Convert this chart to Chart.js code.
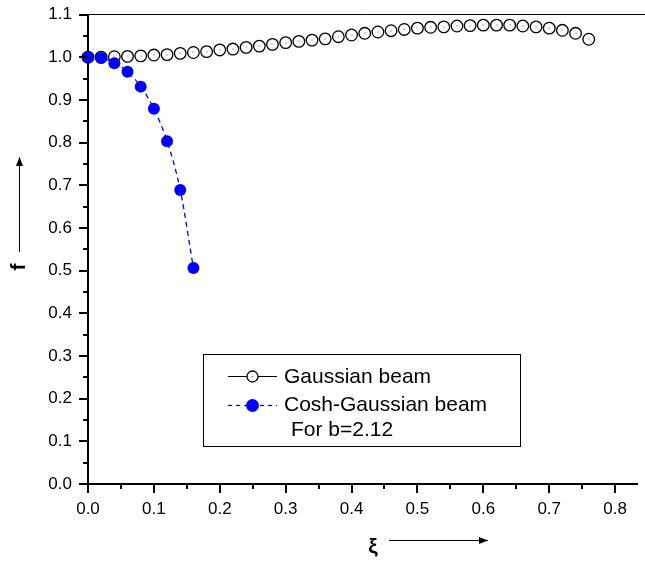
<!DOCTYPE html>
<html>
<head>
<meta charset="utf-8">
<script src="https://cdn.jsdelivr.net/npm/chart.js@4.4.1/dist/chart.umd.min.js"></script>
<style>
    html, body { margin: 0; padding: 0; background: #fff; }
    #wrap { width: 645px; height: 562px; }
</style>
</head>
<body>
<div id="wrap"><canvas id="chart"></canvas></div>
<script>
// data
const gaussX = [0, 0.02, 0.04, 0.06, 0.08, 0.10, 0.12, 0.14, 0.16, 0.18,
    0.20, 0.22, 0.24, 0.26, 0.28, 0.30, 0.32, 0.34, 0.36, 0.38,
    0.40, 0.42, 0.44, 0.46, 0.48, 0.50, 0.52, 0.54, 0.56, 0.58,
    0.60, 0.62, 0.64, 0.66, 0.68, 0.70, 0.72, 0.74, 0.76];
const gaussY = [1.000, 1.000, 1.001, 1.002, 1.003, 1.005, 1.006, 1.009, 1.011, 1.013,
    1.017, 1.019, 1.023, 1.026, 1.030, 1.034, 1.037, 1.040, 1.043, 1.048,
    1.052, 1.056, 1.059, 1.062, 1.065, 1.068, 1.070, 1.071, 1.073, 1.074,
    1.075, 1.075, 1.075, 1.073, 1.071, 1.068, 1.063, 1.056, 1.042];

const coshX = [0, 0.02, 0.04, 0.06, 0.08, 0.10, 0.12, 0.14, 0.16];
const coshY = [1.000, 0.998, 0.986, 0.966, 0.931, 0.879, 0.803, 0.689, 0.506];

const xTicks = [0, 0.1, 0.2, 0.3, 0.4, 0.5, 0.6, 0.7, 0.8];
const yTicks = [0, 0.1, 0.2, 0.3, 0.4, 0.5, 0.6, 0.7, 0.8, 0.9, 1.0, 1.1];

const legendLabels = ['Gaussian beam', 'Cosh-Gaussian beam', 'For b=2.12'];
const xTitle = 'ξ';
const yTitle = 'f';

const FONT = '"Liberation Sans", Arial, sans-serif';

function toPoints(xs, ys) {
    return xs.map((x, i) => ({ x: x, y: ys[i] }));
}

function midpoints(arr) {
    const out = [];
    for (let i = 0; i < arr.length - 1; i++) out.push((arr[i] + arr[i + 1]) / 2);
    return out;
}

function arrow(ctx, x1, y1, x2, y2) {
    ctx.beginPath();
    ctx.moveTo(x1, y1);
    ctx.lineTo(x2, y2);
    ctx.stroke();
    const a = Math.atan2(y2 - y1, x2 - x1);
    ctx.save();
    ctx.translate(x2, y2);
    ctx.rotate(a);
    ctx.beginPath();
    ctx.moveTo(0, 0);
    ctx.lineTo(-9, -3.5);
    ctx.lineTo(-9, 3.5);
    ctx.closePath();
    ctx.fill();
    ctx.restore();
}

// ticks, frame line, axis titles and the boxed legend
const decorPlugin = {
    id: 'decor',
    afterDraw(chart) {
        const ctx = chart.ctx;
        const xs = chart.scales.x;
        const ys = chart.scales.y;
        const area = chart.chartArea;
        ctx.save();
        ctx.strokeStyle = '#000';
        ctx.fillStyle = '#000';

        // top frame line
        ctx.lineWidth = 1;
        ctx.beginPath();
        ctx.moveTo(area.left, Math.floor(area.top) + 0.5);
        ctx.lineTo(chart.width, Math.floor(area.top) + 0.5);
        ctx.stroke();

        // x ticks
        ctx.lineWidth = 2;
        xTicks.forEach(v => {
            const px = Math.round(xs.getPixelForValue(v));
            ctx.beginPath();
            ctx.moveTo(px, area.bottom);
            ctx.lineTo(px, area.bottom + 9);
            ctx.stroke();
        });
        midpoints(xTicks).forEach(v => {
            const px = Math.round(xs.getPixelForValue(v));
            ctx.beginPath();
            ctx.moveTo(px, area.bottom);
            ctx.lineTo(px, area.bottom + 5);
            ctx.stroke();
        });
        // y ticks
        yTicks.forEach(v => {
            const py = Math.round(ys.getPixelForValue(v));
            ctx.beginPath();
            ctx.moveTo(area.left, py);
            ctx.lineTo(area.left - 9, py);
            ctx.stroke();
        });
        midpoints(yTicks).forEach(v => {
            const py = Math.round(ys.getPixelForValue(v));
            ctx.beginPath();
            ctx.moveTo(area.left, py);
            ctx.lineTo(area.left - 5, py);
            ctx.stroke();
        });

        // small centre dots of the open circles
        ctx.fillStyle = '#555';
        gaussX.forEach((x, i) => {
            ctx.fillRect(Math.round(xs.getPixelForValue(x)) - 0.5, Math.round(ys.getPixelForValue(gaussY[i])) - 0.5, 1, 1);
        });
        ctx.fillStyle = '#000';

        // axis titles with arrows
        ctx.lineWidth = 1;
        ctx.font = 'bold 21px ' + FONT;
        ctx.textAlign = 'center';
        ctx.textBaseline = 'middle';
        ctx.fillText(xTitle, 373, 547);
        arrow(ctx, 389, 540.5, 488, 540.5);

        ctx.save();
        ctx.translate(19, 267);
        ctx.rotate(-Math.PI / 2);
        ctx.fillText(yTitle, 0, 0);
        ctx.restore();
        arrow(ctx, 19.5, 252, 19.5, 157);

        // legend box
        ctx.lineWidth = 1;
        ctx.strokeRect(203.5, 354.5, 317, 92);

        ctx.beginPath();
        ctx.moveTo(228, 376.5);
        ctx.lineTo(277, 376.5);
        ctx.stroke();
        ctx.fillStyle = '#fff';
        ctx.lineWidth = 1.3;
        ctx.beginPath();
        ctx.arc(252.5, 376.5, 5.5, 0, Math.PI * 2);
        ctx.fill();
        ctx.stroke();
        ctx.fillStyle = '#555';
        ctx.fillRect(252, 376, 1, 1);

        ctx.strokeStyle = '#0000ff';
        ctx.fillStyle = '#0000ff';
        ctx.lineWidth = 1.2;
        ctx.setLineDash([4, 4]);
        ctx.beginPath();
        ctx.moveTo(228, 405.5);
        ctx.lineTo(277, 405.5);
        ctx.stroke();
        ctx.setLineDash([]);
        ctx.beginPath();
        ctx.arc(252.5, 405.5, 6.5, 0, Math.PI * 2);
        ctx.fill();

        ctx.fillStyle = '#000';
        ctx.font = '21px ' + FONT;
        ctx.textAlign = 'left';
        ctx.textBaseline = 'alphabetic';
        ctx.fillText(legendLabels[0], 284, 383);
        ctx.fillText(legendLabels[1], 284, 411);
        ctx.fillText(legendLabels[2], 291, 436);
        ctx.restore();
    }
};

const ctx = document.getElementById('chart').getContext('2d');
new Chart(ctx, {
    type: 'line',
    data: {
        datasets: [{
            label: legendLabels[1],
            data: toPoints(coshX, coshY),
            borderColor: '#0000ff',
            backgroundColor: '#0000ff',
            borderWidth: 1.3,
            borderDash: [5, 4],
            pointRadius: 6,
            pointBorderWidth: 0,
            pointBackgroundColor: '#0000ff',
            cubicInterpolationMode: 'monotone',
            clip: false
        }, {
            label: legendLabels[0],
            data: toPoints(gaussX, gaussY),
            showLine: false,
            borderColor: '#000',
            borderWidth: 1,
            pointRadius: 5.8,
            pointBorderWidth: 1.3,
            pointBorderColor: '#000',
            pointBackgroundColor: '#fff',
            clip: false
        }]
    },
    options: {
        responsive: true,
        maintainAspectRatio: false,
        animation: false,
        layout: {
            padding: { top: 14.5, right: 0, left: 0, bottom: 0 }
        },
        plugins: {
            legend: { display: false },
            tooltip: { enabled: false }
        },
        scales: {
            x: {
                type: 'linear',
                min: 0,
                max: 0.8346,
                afterBuildTicks: (scale) => {
                    scale.ticks = xTicks.map(v => ({ value: v }));
                },
                afterFit: (scale) => {
                    scale.height = 78;
                    scale.paddingLeft = 0;
                    scale.paddingRight = 0;
                },
                grid: { display: false, drawTicks: false },
                border: { display: true, color: '#000', width: 2 },
                ticks: {
                    color: '#000',
                    padding: 15,
                    maxRotation: 0,
                    font: { family: FONT, size: 17 },
                    callback: (v) => v.toFixed(1)
                }
            },
            y: {
                type: 'linear',
                min: 0,
                max: 1.1,
                afterBuildTicks: (scale) => {
                    scale.ticks = yTicks.map(v => ({ value: v }));
                },
                afterFit: (scale) => {
                    scale.width = 88;
                    scale.paddingTop = 0;
                    scale.paddingBottom = 0;
                },
                grid: { display: false, drawTicks: false },
                border: { display: true, color: '#000', width: 2 },
                ticks: {
                    color: '#000',
                    padding: 16,
                    font: { family: FONT, size: 17 },
                    callback: (v) => v.toFixed(1)
                }
            }
        }
    },
    plugins: [decorPlugin]
});
</script>
</body>
</html>
